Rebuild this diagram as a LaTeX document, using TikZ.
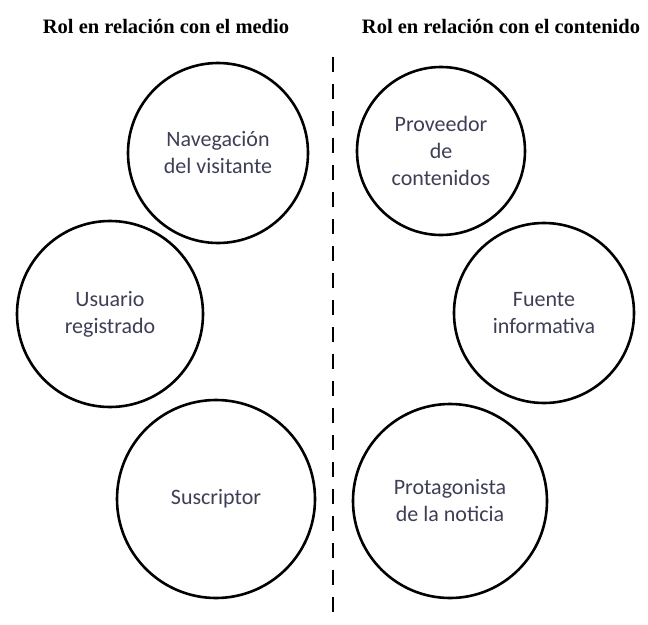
\documentclass[tikz,border=0pt]{standalone}
\usepackage{fontspec}
\setmainfont{Carlito}
\newfontfamily\titlefont{Liberation Serif}
\usepackage{tikz}
\definecolor{rolgray}{RGB}{62,62,86}

\begin{document}
\begin{tikzpicture}[x=1pt, y=-1pt,
		rol/.style={circle, draw, line width=2.6pt, align=center, inner sep=0pt,
			text=rolgray, font=\fontsize{22}{27}\selectfont},
		titulo/.style={anchor=base, font=\titlefont\bfseries\fontsize{20.5}{24}\selectfont},
		divisor/.style={line width=2.8pt, dash pattern=on 15pt off 12pt}]
		\useasboundingbox (0,0) rectangle (648,624);
		
		\coordinate (T) at (333, 57);
		\coordinate (B) at (333, 615);
		
		\node[titulo] (medio) at (166, 33) {Rol en relación con el medio};
		\node[titulo] (contenido) at (501, 33) {Rol en relación con el contenido};
		
		\draw[divisor] (T) -- (B);
		
		% rol en relacion con el medio
		\foreach \n/\x/\y/\d/\t in {nav/218/153/180/{Navegación\\del visitante},
			usu/110/314/186/{Usuario\\registrado},
			sus/216/499/198/{Suscriptor}} {
			\node[rol, minimum size=\d pt] (\n) at (\x, \y) {\t};
		}
		% rol en relacion con el contenido
		\foreach \n/\x/\y/\d/\t in {pro/441/151/168/{Proveedor\\de\\contenidos},
			fue/544/313/180/{Fuente\\informativa},
			pta/450/501/194/{Protagonista\\de la noticia}} {
			\node[rol, minimum size=\d pt] (\n) at (\x, \y) {\t};
		}
	
	\end{tikzpicture}
\end{document}
